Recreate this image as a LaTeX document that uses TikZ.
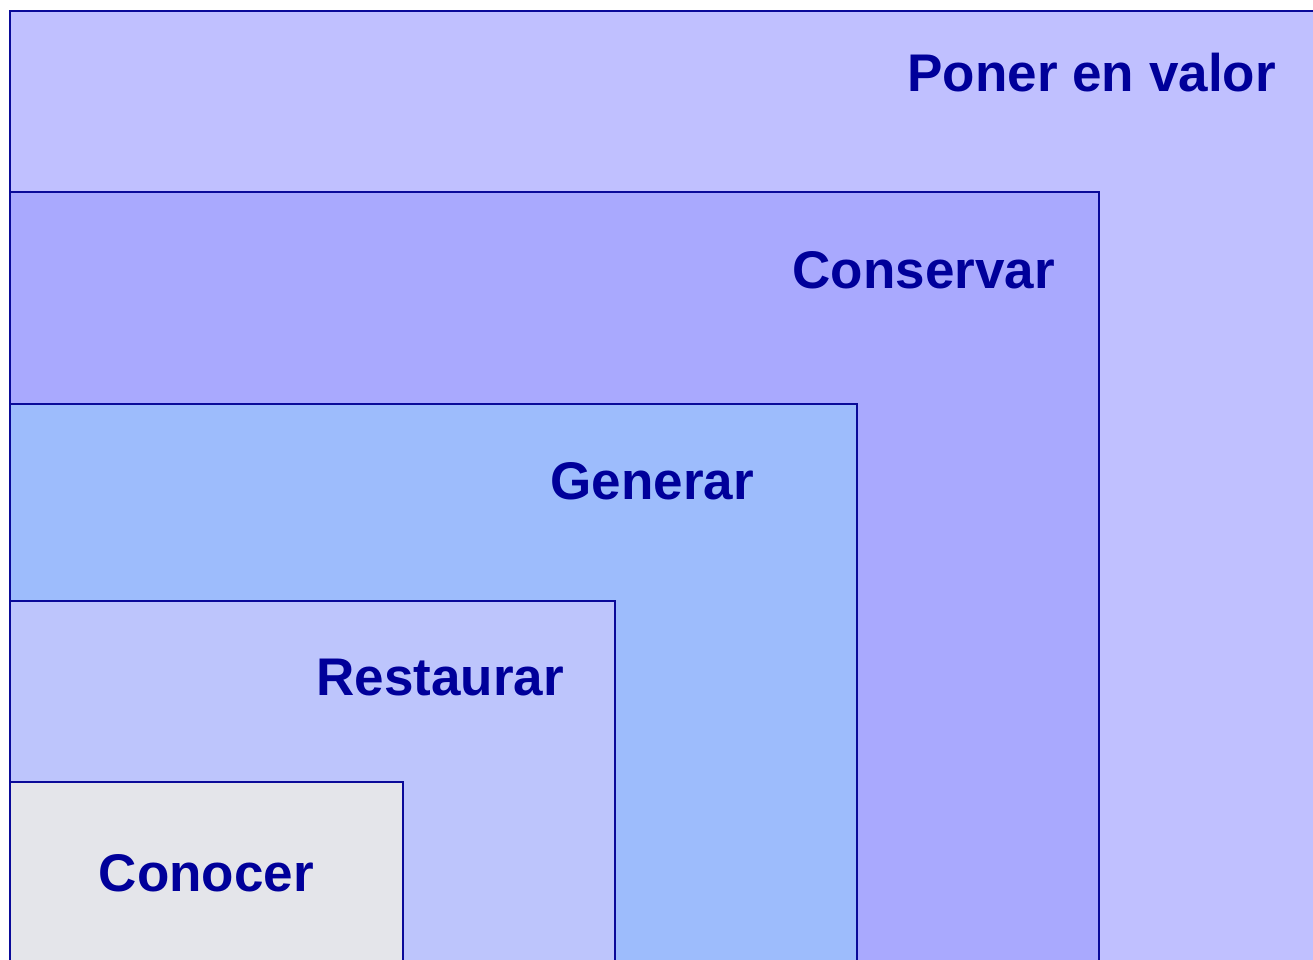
\documentclass[tikz,border=0pt]{standalone}
\usepackage{fontspec}
\setmainfont{Liberation Sans}
\definecolor{edgeblue}{HTML}{0A0A99}
\definecolor{txtblue}{HTML}{00009A}
\definecolor{cPoner}{HTML}{C0C0FF}
\definecolor{cConservar}{HTML}{A9A9FE}
\definecolor{cGenerar}{HTML}{9DBCFC}
\definecolor{cRestaurar}{HTML}{BDC5FC}
\definecolor{cConocer}{HTML}{E4E5EA}
\tikzset{
  layer/.style={draw=edgeblue, line width=2pt},
  lbl/.style={text=txtblue, font=\fontsize{53}{60}\selectfont\bfseries, anchor=base east, inner sep=0pt}
}
\begin{document}
\begin{tikzpicture}[x=1pt,y=-1pt]
\useasboundingbox (0,0) rectangle (1313,959);
\fill[white] (0,0) rectangle (1313,959);
\begin{scope}
\clip (0,0) rectangle (1313,959);
\draw[layer, fill=cPoner] (10,11) rectangle (1330,980);
\draw[layer, fill=cConservar] (10,192) rectangle (1099,980);
\draw[layer, fill=cGenerar] (10,404) rectangle (857,980);
\draw[layer, fill=cRestaurar] (10,601) rectangle (615,980);
\draw[layer, fill=cConocer] (10,782) rectangle (403,980);
\end{scope}
\node[lbl] (poner) at (1276,91) {Poner en valor};
\node[lbl] (conservar) at (1055,288) {Conservar};
\node[lbl] (generar) at (754,499) {Generar};
\node[lbl] (restaurar) at (564,695) {Restaurar};
\node[lbl] (conocer) at (314,891) {Conocer};
\end{tikzpicture}
\end{document}
